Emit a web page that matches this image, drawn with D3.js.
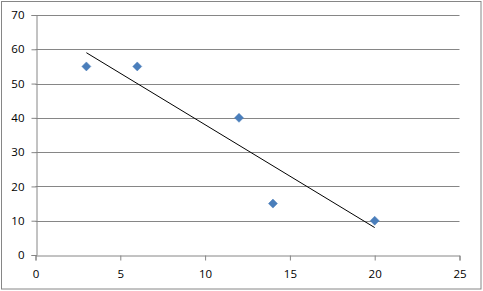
<!DOCTYPE html>
<html>
<head>
<meta charset="utf-8">
<script src="https://cdn.jsdelivr.net/npm/d3@7"></script>
<style>
  body { margin: 0; background: #fff; }
  svg { display: block; }
  .tick text { font-family: "Open Sans", "Liberation Sans", sans-serif; font-size: 11.5px; fill: #000; }
</style>
</head>
<body>
<svg id="chart"></svg>
<script>
// data
const xs = [3, 6, 12, 14, 20];
const ys = [55, 55, 40, 15, 10];
// linear trendline end points
const trendX = [3, 20];
const trendY = [59, 8];
const xTicks = [0, 5, 10, 15, 20, 25];
const yTicks = [0, 10, 20, 30, 40, 50, 60, 70];

const width = 483, height = 291;
const margin = {top: 15, right: 23.5, bottom: 36, left: 35.5};

const svg = d3.select('#chart')
    .attr('width', width)
    .attr('height', height);

// outer chart border
svg.append('rect')
    .attr('x', 1.5).attr('y', 1.5)
    .attr('width', width - 3.5).attr('height', height - 3.5)
    .attr('fill', 'white')
    .attr('stroke', '#868686')
    .attr('stroke-width', 1);

const x = d3.scaleLinear().domain([0, 25]).range([margin.left, width - margin.right]);
const y = d3.scaleLinear().domain([0, 70]).range([height - margin.bottom, margin.top]);

// gridlines
svg.append('g')
    .selectAll('line')
    .data(yTicks.filter(d => d > 0))
    .enter().append('line')
    .attr('x1', x(0)).attr('x2', x(25))
    .attr('y1', d => Math.round(y(d)) + 0.5)
    .attr('y2', d => Math.round(y(d)) + 0.5)
    .attr('stroke', '#868686');

const xAxis = svg.append('g')
    .attr('transform', `translate(0,${Math.round(y(0)) + 0.5})`)
    .call(d3.axisBottom(x).tickValues(xTicks).tickSize(5).tickPadding(9));
xAxis.select('.domain').attr('stroke', '#868686');
xAxis.selectAll('.tick line').attr('stroke', '#868686');

const yAxis = svg.append('g')
    .attr('transform', `translate(${Math.round(x(0)) + 0.5},0)`)
    .call(d3.axisLeft(y).tickValues(yTicks).tickSize(5).tickPadding(7));
yAxis.select('.domain').attr('stroke', '#868686');
yAxis.selectAll('.tick line').attr('stroke', '#868686');

// trendline
svg.append('line')
    .attr('x1', x(trendX[0])).attr('y1', y(trendY[0]))
    .attr('x2', x(trendX[1])).attr('y2', y(trendY[1]))
    .attr('stroke', '#000')
    .attr('stroke-width', 1);

// diamond markers
svg.append('g')
    .selectAll('path')
    .data(xs.map((d, i) => ({x: d, y: ys[i]})))
    .enter().append('path')
    .attr('transform', d => `translate(${x(d.x)},${y(d.y)})`)
    .attr('d', 'M0,-4.5L4.5,0L0,4.5L-4.5,0Z')
    .attr('fill', '#4a7ebb')
    .attr('stroke', '#4a7ebb')
    .attr('stroke-width', 0.5);
</script>
</body>
</html>
